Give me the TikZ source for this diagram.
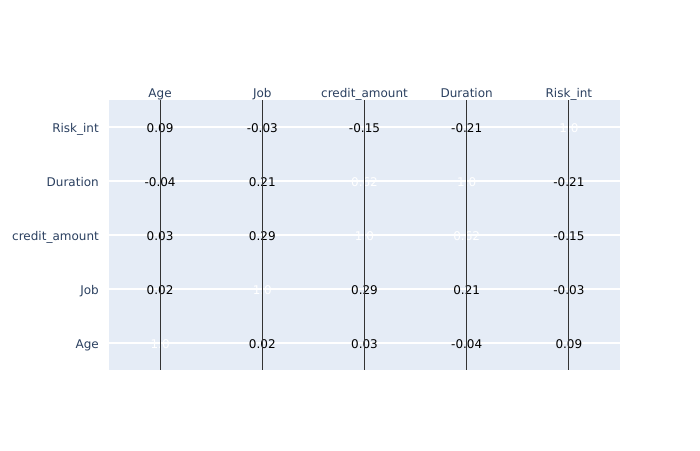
\documentclass[tikz,border=0pt]{standalone}
\usepackage{fontspec}
\setmainfont{DejaVu Sans}
\usetikzlibrary{positioning}

\definecolor{plotbg}{HTML}{E5ECF6}
\definecolor{axistext}{HTML}{2A3F5F}

\begin{document}
\begin{tikzpicture}[x=1pt, y=-1pt,
    axislabel/.style=
    {text=axistext, font=\fontsize{12}{14}\selectfont, inner sep=0pt},
    cellvalue/.style=
    {text=black, font=\fontsize{12}{14}\selectfont, inner sep=0pt, anchor=base},
    diagvalue/.style=
    {cellvalue, text=white},
    gridline/.style={draw=white, line width=1.6pt},
    colline/.style={draw=black!80, line width=0.9pt}]
    \useasboundingbox (0,0) rectangle (700,450);
    % plot area
    \fill[plotbg] (109,100) rectangle (620,370);
    % rows, bottom to top: Age, Job, credit_amount, Duration, Risk_int
    \foreach \r/\y in {1/343, 2/289, 3/235, 4/181, 5/127} {
        \coordinate (row\r) at (0,\y+5);
        \draw[gridline] (109,\y) -- (620,\y);
    }
    \foreach \c/\x in {1/160.1, 2/262.3, 3/364.5, 4/466.7, 5/568.9}
        \coordinate (col\c) at (\x,0);
    % column labels
    \foreach \c/\name in {1/Age, 2/Job, 3/credit\_amount, 4/Duration, 5/Risk\_int}
        \node (top\c) [axislabel, anchor=base] at (col\c |- 0,97) {\name};
    % row labels
    \foreach \r/\name in {1/Age, 2/Job, 3/credit\_amount, 4/Duration, 5/Risk\_int}
        \node (left\r) [axislabel, anchor=base east] at (99,0 |- row\r) {\name};
    % values
    \foreach \r/\c/\t/\s in {
        1/1/1.0/diagvalue, 1/2/0.02/cellvalue, 1/3/0.03/cellvalue, 1/4/-0.04/cellvalue, 1/5/0.09/cellvalue,
        2/1/0.02/cellvalue, 2/2/1.0/diagvalue, 2/3/0.29/cellvalue, 2/4/0.21/cellvalue, 2/5/-0.03/cellvalue,
        3/1/0.03/cellvalue, 3/2/0.29/cellvalue, 3/3/1.0/diagvalue, 3/4/0.62/diagvalue, 3/5/-0.15/cellvalue,
        4/1/-0.04/cellvalue, 4/2/0.21/cellvalue, 4/3/0.62/diagvalue, 4/4/1.0/diagvalue, 4/5/-0.21/cellvalue,
        5/1/0.09/cellvalue, 5/2/-0.03/cellvalue, 5/3/-0.15/cellvalue, 5/4/-0.21/cellvalue, 5/5/1.0/diagvalue}
        \node (v\r\c) [\s] at (col\c |- row\r) {\t};
    % column lines
    \foreach \c in {1,...,5}
        \draw[colline] (col\c |- 0,100) -- (col\c |- 0,370);
\end{tikzpicture}
\end{document}
